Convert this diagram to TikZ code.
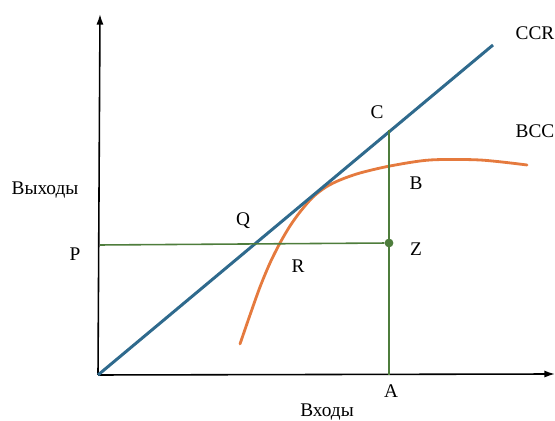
\documentclass[tikz,border=0pt]{standalone}
\usepackage{fontspec}
\setmainfont{Liberation Serif}
\usepackage{xcolor}
\usepackage{tikz}
\usetikzlibrary{arrows.meta, positioning, calc}
\definecolor{ccrblue}{HTML}{2F6A8D}
\definecolor{bccorange}{HTML}{E57A3E}
\definecolor{projgreen}{HTML}{4E7D3C}

\begin{document}
\begin{tikzpicture}[
    x=0.02cm, y=-0.02cm,
    every node/.style={font=\fontsize{11}{13}\selectfont, inner sep=1pt},
    axis/.style={-{Latex[length=6pt, width=4pt]}, line width=0.9pt, color=black},
    frontier/.style={line width=1.7pt, color=ccrblue},
    bcc/.style={line width=1.6pt, color=bccorange, line cap=round},
    proj/.style={line width=0.9pt, color=projgreen},
    pt/.style={circle, fill=projgreen, inner sep=0pt, minimum size=5pt}
]
\useasboundingbox (0,0) rectangle (555,421);

% Axes
\coordinate (O)    at (98,375);
\coordinate (ytop) at (100,14);
\coordinate (xend) at (555,374);
\draw[axis] (O) -- (ytop);
\draw[axis] (O) -- (xend);
\node (yname) at (45,190) {Выходы};
\node (xname) at (327,412) {Входы};

% BCC frontier (below CCR, touching it)
\draw[bcc] plot[smooth, tension=0.5] coordinates {(240,344) (250,315) (260,287)
    (270,263) (280,243) (290,226) (300,212) (313,197) (326,187) (340,180)
    (360,173) (390,166) (430,160) (480,160) (527,165)};
\node (bcclab) at (535,131) {BCC};

% CCR frontier
\coordinate (ccrend) at (493,45);
\draw[frontier] (O) -- (ccrend);
\node (ccr) at (535,33) {CCR};

% Projections
\coordinate (C) at (389,130);
\coordinate (A) at (389,375);
\coordinate (P) at (100,245);
\node[pt] (Z) at (389,243) {};
\draw[proj] (C) -- (A);
\draw[proj] (P) -- (Z);

% Point labels
\node (lc) at (377,112) {C};
\node (lb) at (416,183) {B};
\node (lq) at (243,221) {Q};
\node (lr) at (298,266) {R};
\node (lz) at (416,249) {Z};
\node (lp) at (75,254) {P};
\node (la) at (391,391) {A};

\end{tikzpicture}
\end{document}
